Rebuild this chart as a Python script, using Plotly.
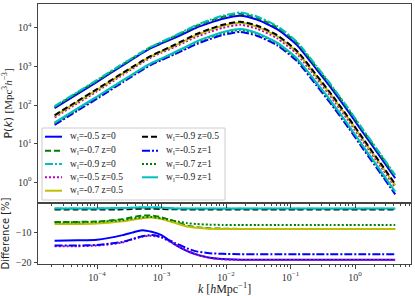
import plotly.graph_objects as go

# ---------------- data ----------------
k = [2.2e-5, 5e-5, 1e-4, 2.5e-4, 3.5e-4, 5e-4, 7e-4, 1e-3, 1.6e-3, 2.5e-3, 3.5e-3,
     5.6e-3, 8.9e-3, 0.0166, 0.030, 0.062, 0.126, 0.25, 0.41, 0.79, 1.35, 2.5, 4.2]

pk_w05_z0 = [83.3, 195.6, 399.9, 1069, 1523, 2218, 3051, 3969, 5554, 7830, 10185,
             13561, 17380, 20848, 16556, 9312, 3622, 869, 301, 67.5, 18.6, 4.36, 1.253]
pk_w07_z0 = [89.1, 209, 426.8, 1131, 1608, 2333, 3224, 4227, 6038, 8606, 11281,
             15157, 19499, 23422, 18600, 10461, 4070, 976, 338.5, 75.8, 20.9, 4.9, 1.408]
pk_w09_z0 = [93.3, 218.8, 446.7, 1175, 1660, 2399, 3311, 4365, 6310, 9120, 12020,
             16220, 20890, 25120, 19950, 11220, 4365, 1047, 363, 81.3, 22.4, 5.25, 1.51]
pk_w05_z05 = [47.6, 111.5, 228, 606.4, 866.2, 1263, 1749, 2293, 3238, 4576, 5938,
              7906, 10120, 12139, 9641, 5422, 2109, 506.1, 175.5, 39.3, 10.82, 2.54, 0.73]
pk_w07_z05 = [51.6, 120.9, 247.2, 654.7, 929.5, 1349, 1866, 2449, 3501, 5001, 6563,
              8827, 11356, 13655, 10844, 6099, 2372, 569.3, 197.4, 44.2, 12.18, 2.855, 0.821]
pk_w09_z05 = [54.2, 127.1, 259.2, 682, 964, 1393, 1923, 2535, 3667, 5301, 6986,
              9427, 12142, 14600, 11595, 6521, 2537, 608.7, 211, 47.3, 13.02, 3.052, 0.878]
pk_w05_z1 = [30.4, 71.3, 145.9, 387.8, 553.3, 806.9, 1119, 1467, 2078, 2944, 3835,
             5137, 6600, 7928, 6296, 3541, 1378, 330.5, 114.6, 25.66, 7.07, 1.657, 0.4765]
pk_w07_z1 = [33.1, 77.6, 158.6, 419.5, 595.6, 863.3, 1193, 1568, 2248, 3229, 4243,
             5712, 7349, 8838, 7018, 3948, 1536, 368.5, 127.7, 28.6, 7.88, 1.847, 0.531]
pk_w09_z1 = [34.7, 81.4, 166.1, 437, 617.6, 892.5, 1232, 1624, 2347, 3396, 4477,
             6040, 7779, 9355, 7429, 4179, 1626, 390, 135.2, 30.28, 8.34, 1.955, 0.562]

diff_w05_z0 = [-12.8, -12.7, -12.5, -11.0, -10.2, -9.4, -9.9, -11.0, -14.0, -16.2, -17.3,
               -18.4, -18.8, -19.0, -19.0, -19.0, -19.0, -19.0, -19.0, -19.0, -19.0, -19.0, -19.0]
diff_w07_z0 = [-6.7, -6.7, -6.6, -5.8, -5.2, -4.7, -4.6, -5.2, -6.5, -7.9, -8.4,
               -8.8, -8.9, -9.0, -9.0, -9.0, -9.0, -9.0, -9.0, -9.0, -9.0, -9.0, -9.0]
diff_w09_z0 = [-2.3, -2.3, -2.3, -2.2, -2.1, -2.0, -2.0, -2.1, -2.3, -2.4, -2.4,
               -2.4, -2.4, -2.4, -2.4, -2.4, -2.4, -2.4, -2.4, -2.4, -2.4, -2.4, -2.4]
diff_w05_z05 = [-14.6, -14.6, -14.4, -13.4, -12.4, -11.5, -11.2, -11.8, -14.0, -16.0, -17.3,
                -18.4, -18.9, -19.1, -19.1, -19.1, -19.1, -19.1, -19.1, -19.1, -19.1, -19.1, -19.1]
diff_w07_z05 = [-7.4, -7.4, -7.2, -6.5, -6.0, -5.5, -5.3, -5.8, -7.0, -8.2, -8.6,
                -8.9, -9.0, -9.0, -9.0, -9.0, -9.0, -9.0, -9.0, -9.0, -9.0, -9.0, -9.0]
diff_w09_z05 = [-2.7, -2.7, -2.7, -2.6, -2.5, -2.4, -2.4, -2.5, -2.6, -2.7, -2.7,
                -2.7, -2.7, -2.7, -2.7, -2.7, -2.7, -2.7, -2.7, -2.7, -2.7, -2.7, -2.7]
diff_w05_z1 = [-14.4, -14.4, -14.2, -13.2, -12.3, -11.4, -11.0, -11.6, -13.5, -15.3, -16.3,
               -16.9, -17.1, -17.2, -17.2, -17.2, -17.2, -17.2, -17.2, -17.2, -17.2, -17.2, -17.2]
diff_w07_z1 = [-6.8, -6.8, -6.7, -6.1, -5.6, -5.2, -5.1, -5.5, -6.4, -7.1, -7.4,
               -7.6, -7.7, -7.7, -7.7, -7.7, -7.7, -7.7, -7.7, -7.7, -7.7, -7.7, -7.7]
diff_w09_z1 = [-2.3, -2.3, -2.3, -2.2, -2.1, -2.0, -2.0, -2.1, -2.3, -2.3, -2.3,
               -2.3, -2.3, -2.3, -2.3, -2.3, -2.3, -2.3, -2.3, -2.3, -2.3, -2.3, -2.3]

labels = ["w<sub>l</sub>=-0.5 z=0", "w<sub>l</sub>=-0.7 z=0", "w<sub>l</sub>=-0.9 z=0",
          "w<sub>l</sub>=-0.5 z=0.5", "w<sub>l</sub>=-0.7 z=0.5", "w<sub>l</sub>=-0.9 z=0.5",
          "w<sub>l</sub>=-0.5 z=1", "w<sub>l</sub>=-0.7 z=1", "w<sub>l</sub>=-0.9 z=1"]
pk_series = [pk_w05_z0, pk_w07_z0, pk_w09_z0, pk_w05_z05, pk_w07_z05, pk_w09_z05,
             pk_w05_z1, pk_w07_z1, pk_w09_z1]
diff_series = [diff_w05_z0, diff_w07_z0, diff_w09_z0, diff_w05_z05, diff_w07_z05,
               diff_w09_z05, diff_w05_z1, diff_w07_z1, diff_w09_z1]

x_tickvals = [1e-4, 1e-3, 1e-2, 1e-1, 1]
x_ticktext = ["10<sup>\u22124</sup>", "10<sup>\u22123</sup>", "10<sup>\u22122</sup>",
              "10<sup>\u22121</sup>", "10<sup>0</sup>"]
y_tickvals = [1, 10, 100, 1000, 10000]
y_ticktext = ["10<sup>0</sup>", "10<sup>1</sup>", "10<sup>2</sup>", "10<sup>3</sup>", "10<sup>4</sup>"]
d_tickvals = [-10, -20]
d_ticktext = ["\u221210", "\u221220"]

# ---------------- styles ----------------
BLUE, GREEN, CYAN, MAG, YEL, BLK = "#0000ff", "#008000", "#00bfbf", "#bf00bf", "#bfbf00", "#000000"
DASH, DOT, DASHDOT = "6px,3px", "2px,2px", "8px,2px,2px,2px"
styles = [(BLUE, "solid"), (GREEN, DASH), (CYAN, DASHDOT),
          (MAG, DOT), (YEL, "solid"), (BLK, DASH),
          (BLUE, DASHDOT), (GREEN, DOT), (CYAN, "solid")]
LW = 2
SERIF = "Liberation Serif"

fig = go.Figure()
for lab, pk, (c, d) in zip(labels, pk_series, styles):
    fig.add_trace(go.Scatter(x=k, y=pk, mode="lines", name=lab, xaxis="x2", yaxis="y",
                             line=dict(color=c, dash=d, width=LW, shape="spline", smoothing=0.6),
                             showlegend=False))
for lab, df, (c, d) in zip(labels, diff_series, styles):
    fig.add_trace(go.Scatter(x=k, y=df, mode="lines", name=lab, xaxis="x", yaxis="y2",
                             line=dict(color=c, dash=d, width=LW, shape="spline", smoothing=0.6),
                             showlegend=False))

# ---------------- layout ----------------
W, H = 415, 296
ML, MR, MT, MB = 38, 4, 4, 32
PW, PH = W - ML - MR, H - MT - MB
split = (264 - 203) / PH

minor_vals = [m * 10 ** e for e in range(-5, 1) for m in range(2, 10)]
axis_common = dict(showline=True, linecolor="#444444", linewidth=1, mirror=True,
                   ticks="outside", ticklen=3.5, tickcolor="#444444", showgrid=False,
                   zeroline=False, tickfont=dict(family=SERIF, size=10, color="#333333"))

fig.update_layout(
    width=W, height=H, margin=dict(l=ML, r=MR, t=MT, b=MB),
    paper_bgcolor="white", plot_bgcolor="white",
    xaxis=dict(type="log", range=[-4.915, 0.868], anchor="y2", domain=[0, 1],
               tickmode="array", tickvals=x_tickvals, ticktext=x_ticktext,
               minor=dict(tickmode="array", tickvals=minor_vals, ticks="outside",
                          ticklen=2, tickcolor="#444444"),
               title=dict(text="<i>k</i> [<i>h</i>Mpc<sup>\u22121</sup>]",
                          font=dict(family=SERIF, size=12, color="#222222"), standoff=0),
               **axis_common),
    xaxis2=dict(type="log", range=[-4.915, 0.868], anchor="y", domain=[0, 1], matches="x",
                tickmode="array", tickvals=x_tickvals, showticklabels=False,
                minor=dict(tickmode="array", tickvals=minor_vals, ticks="outside",
                           ticklen=2, tickcolor="#444444"),
                **axis_common),
    yaxis=dict(type="log", range=[-0.545, 4.623], domain=[split, 1], anchor="x2",
               tickmode="array", tickvals=y_tickvals, ticktext=y_ticktext,
               title=dict(text="P(<i>k</i>) <span style=\"font-family:Liberation Serif\">[Mpc<sup>3</sup><i>h</i><sup>\u22123</sup>]</span>",
                          font=dict(family="DejaVu Sans", size=11, color="#222222"), standoff=4),
               **axis_common),
    yaxis2=dict(range=[-20.4, -0.55], domain=[0, split], anchor="x",
                tickmode="array", tickvals=d_tickvals, ticktext=d_ticktext,
                title=dict(text="Difference [%]",
                           font=dict(family="DejaVu Sans", size=10, color="#222222"), standoff=4),
                **axis_common),
)

# ---------------- legend (two columns, matplotlib style) ----------------
def px(xp):
    return (xp - ML) / PW

def py(yp):
    return (MT + PH - yp) / PH

shapes = [dict(type="rect", xref="paper", yref="paper", x0=px(42), x1=px(225), y0=py(200), y1=py(128),
               line=dict(color="#cccccc", width=1), fillcolor="rgba(255,255,255,0.85)", layer="above")]
annotations = []
rows_y = [136.7, 150.7, 164.0, 177.3, 190.7]
cols = [(45, 62, 68), (142, 158, 164)]
for i, (lab, (c, d)) in enumerate(zip(labels, styles)):
    col, row = divmod(i, 5)
    hx0, hx1, tx = cols[col]
    yy = py(rows_y[row])
    shapes.append(dict(type="line", xref="paper", yref="paper", x0=px(hx0), x1=px(hx1), y0=yy, y1=yy,
                       line=dict(color=c, dash=d, width=LW), layer="above"))
    annotations.append(dict(text=lab, xref="paper", yref="paper", x=px(tx), y=yy,
                            xanchor="left", yanchor="middle", showarrow=False,
                            font=dict(family=SERIF, size=9.5, color="#222222")))
fig.update_layout(shapes=shapes, annotations=annotations)

fig.write_html("out.html", config={"displayModeBar": False},
               post_script="document.body.style.margin='0';")
